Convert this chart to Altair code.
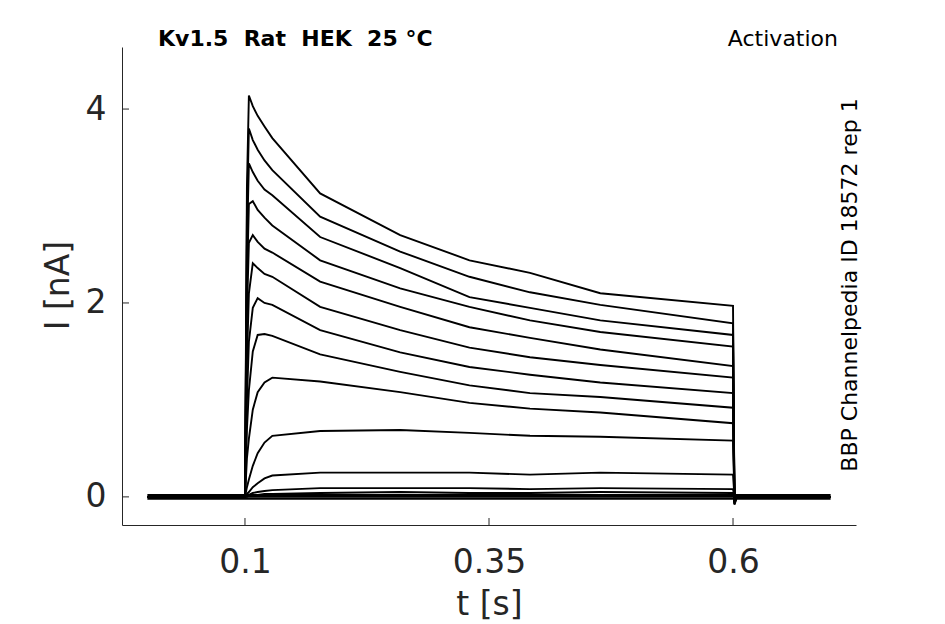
import altair as alt
import pandas as pd

# sample times (s)
T = [0.0, 0.1, 0.102, 0.104, 0.108, 0.113, 0.12, 0.128, 0.177, 0.259,
     0.33, 0.392, 0.464, 0.6, 0.6015, 0.604, 0.7]

# current traces (nA), one per voltage step
tr01 = [0, 0, 3.20, 4.14, 4.03, 3.93, 3.82, 3.70, 3.13, 2.70, 2.44, 2.31, 2.10, 1.97, -0.08, 0, 0]
tr02 = [0, 0, 2.90, 3.80, 3.68, 3.58, 3.47, 3.37, 2.89, 2.53, 2.27, 2.11, 1.98, 1.79, -0.07, 0, 0]
tr03 = [0, 0, 2.60, 3.44, 3.35, 3.26, 3.17, 3.11, 2.68, 2.36, 2.06, 1.95, 1.82, 1.67, -0.06, 0, 0]
tr04 = [0, 0, 2.20, 3.02, 3.05, 2.96, 2.88, 2.80, 2.44, 2.15, 1.96, 1.82, 1.70, 1.55, -0.05, 0, 0]
tr05 = [0, 0, 1.90, 2.62, 2.70, 2.63, 2.56, 2.52, 2.22, 1.96, 1.75, 1.64, 1.52, 1.35, -0.05, 0, 0]
tr06 = [0, 0, 1.40, 2.10, 2.41, 2.36, 2.30, 2.27, 1.96, 1.72, 1.54, 1.44, 1.36, 1.23, -0.04, 0, 0]
tr07 = [0, 0, 1.00, 1.60, 1.95, 2.05, 2.00, 1.98, 1.72, 1.49, 1.34, 1.26, 1.18, 1.07, -0.04, 0, 0]
tr08 = [0, 0, 0.70, 1.10, 1.50, 1.67, 1.68, 1.66, 1.47, 1.29, 1.15, 1.07, 1.03, 0.92, -0.03, 0, 0]
tr09 = [0, 0, 0.40, 0.60, 0.90, 1.08, 1.18, 1.23, 1.19, 1.08, 0.97, 0.91, 0.87, 0.76, -0.03, 0, 0]
tr10 = [0, 0, 0.10, 0.18, 0.32, 0.45, 0.56, 0.63, 0.68, 0.69, 0.66, 0.63, 0.62, 0.58, -0.02, 0, 0]
tr11 = [0, 0, 0.03, 0.05, 0.10, 0.14, 0.19, 0.22, 0.25, 0.25, 0.25, 0.23, 0.25, 0.23, 0, 0, 0]
tr12 = [0, 0, 0.01, 0.02, 0.04, 0.05, 0.06, 0.07, 0.09, 0.09, 0.09, 0.08, 0.09, 0.08, 0, 0, 0]
tr13 = [0, 0, 0.00, 0.01, 0.02, 0.02, 0.03, 0.03, 0.04, 0.05, 0.04, 0.04, 0.05, 0.04, 0, 0, 0]
tr14 = [0.02] * 17
tr15 = [0.0] * 17
tr16 = [-0.02] * 17

traces = [tr01, tr02, tr03, tr04, tr05, tr06, tr07, tr08, tr09, tr10,
          tr11, tr12, tr13, tr14, tr15, tr16]

x_ticks = [0.1, 0.35, 0.6]
y_ticks = [0, 2, 4]

rows = []
for k, tr in enumerate(traces):
    for i, (t, v) in enumerate(zip(T, tr)):
        rows.append({"trace": f"s{k+1:02d}", "idx": i, "t": t, "I": v})
df = pd.DataFrame(rows)

W, H = 734, 478
FONT = "DejaVu Sans"
AX = "#262626"

xs = alt.Scale(domain=[-0.026, 0.726], nice=False, zero=False)
ys = alt.Scale(domain=[-0.29, 4.64], nice=False, zero=False)

lines = alt.Chart(df).mark_line(color="black", strokeWidth=1.9, clip=True).encode(
    x=alt.X("t:Q", scale=xs, title="t [s]",
            axis=alt.Axis(values=x_ticks, format="~g", ticks=False, tickSize=0,
                          grid=False, domainColor=AX, domainWidth=1,
                          labelFont=FONT, labelFontSize=33, labelColor=AX,
                          labelPadding=21, titleFont=FONT, titleFontSize=33,
                          titleFontWeight="normal", titleColor=AX,
                          titleY=79, titleBaseline="middle")),
    y=alt.Y("I:Q", scale=ys, title="I [nA]",
            axis=alt.Axis(values=y_ticks, format="~g", ticks=False, tickSize=0,
                          grid=False, domainColor=AX, domainWidth=1,
                          labelFont=FONT, labelFontSize=33, labelColor=AX,
                          labelPadding=16, titleFont=FONT, titleFontSize=33,
                          titleFontWeight="normal", titleColor=AX,
                          titleX=-64, titleY=238, titleAngle=270,
                          titleBaseline="middle", titleAlign="center")),
    detail="trace:N",
    order="idx:Q",
)

xt = pd.DataFrame({"v": x_ticks})
yt = pd.DataFrame({"v": y_ticks})
xtick = alt.Chart(xt).mark_rule(color=AX, strokeWidth=1).encode(
    x=alt.X("v:Q", scale=xs), y=alt.value(H - 7), y2=alt.value(H))
ytick = alt.Chart(yt).mark_rule(color=AX, strokeWidth=1).encode(
    y=alt.Y("v:Q", scale=ys), x=alt.value(0), x2=alt.value(7))

title_left = alt.Chart(pd.DataFrame({"s": ["Kv1.5\u00a0\u00a0Rat\u00a0\u00a0HEK\u00a0\u00a025\u00a0°C"]})).mark_text(
    font=FONT, fontSize=22, fontWeight="bold", color="black", align="left", baseline="middle"
).encode(text="s:N", x=alt.value(36), y=alt.value(-8))

title_right = alt.Chart(pd.DataFrame({"s": ["Activation"]})).mark_text(
    font=FONT, fontSize=22, color="black", align="right", baseline="middle"
).encode(text="s:N", x=alt.value(716), y=alt.value(-8))

side = alt.Chart(pd.DataFrame({"s": ["BBP Channelpedia ID 18572 rep 1"]})).mark_text(
    font=FONT, fontSize=22, color="black", align="center", baseline="middle", angle=270
).encode(text="s:N", x=alt.value(728), y=alt.value(238))

chart = alt.layer(lines, xtick, ytick, title_left, title_right, side).properties(
    width=W, height=H,
    autosize=alt.AutoSizeParams(type="none"),
    padding={"left": 114, "top": 39, "right": 81, "bottom": 98},
).configure_view(stroke=None)

chart.save("out.html", embed_options={"renderer": "svg", "actions": False})
